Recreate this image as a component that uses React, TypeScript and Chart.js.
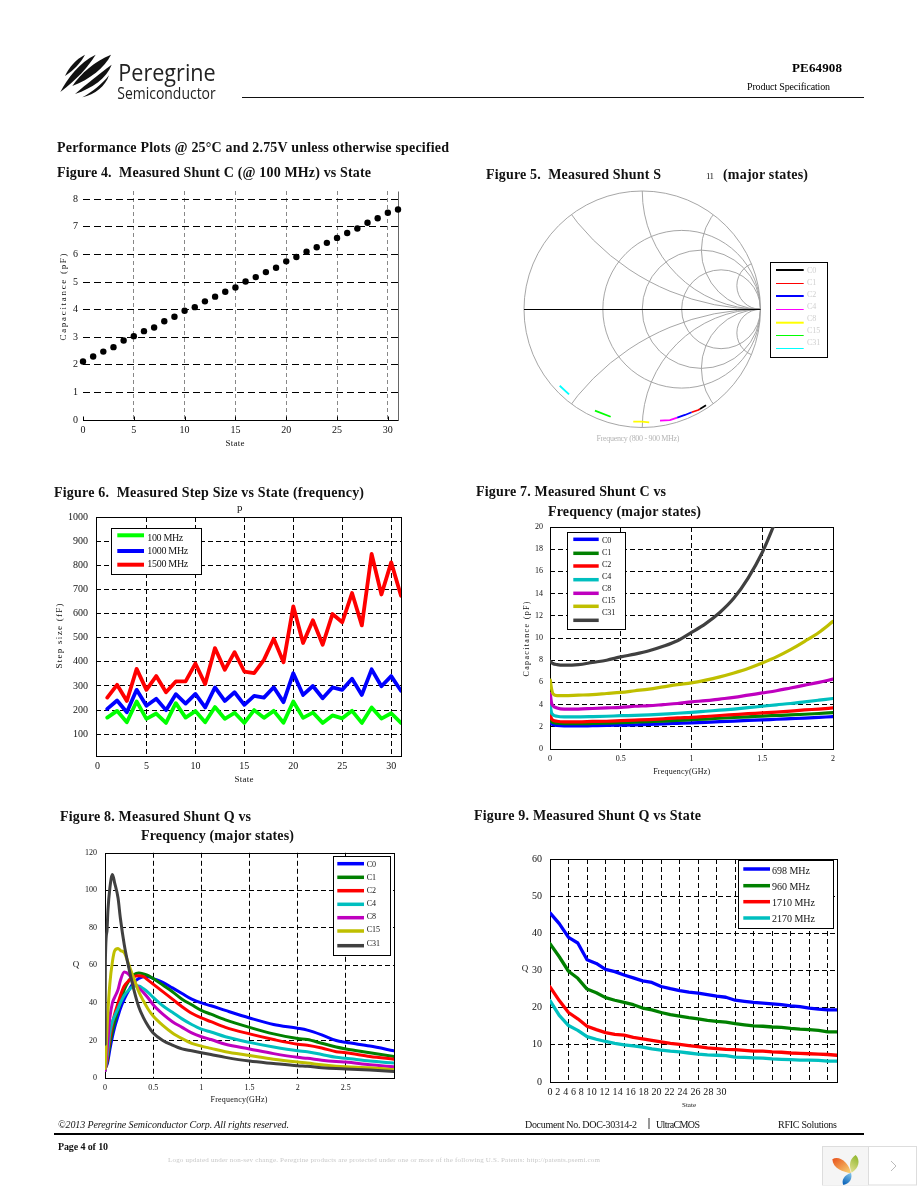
import { useEffect, useRef } from "react";
import { Chart, registerables } from "chart.js";

Chart.register(...registerables);

const SERIF = "'Liberation Serif', 'Times New Roman', serif";

// ---------- Figure 4 ----------
const fig4States = [0,1,2,3,4,5,6,7,8,9,10,11,12,13,14,15,16,17,18,19,20,21,22,23,24,25,26,27,28,29,30,31];
const fig4Capacitance = [2.12,2.3,2.48,2.64,2.88,3.04,3.22,3.35,3.58,3.74,3.96,4.09,4.3,4.47,4.65,4.8,5.02,5.18,5.36,5.52,5.75,5.91,6.1,6.26,6.42,6.6,6.78,6.94,7.15,7.31,7.51,7.63];
const fig4XTicks = [0,5,10,15,20,25,30];
const fig4YTicks = [0,1,2,3,4,5,6,7,8];

// ---------- Figure 5 (reflection coefficient, real / imaginary) ----------
const smithResistance = [0.5,1,2];
const smithReactance = [0.5,1,2,5];
const s11C0Re = [0.488,0.539];
const s11C0Im = [-0.843,-0.812];
const s11C1Re = [0.418,0.474,0.488];
const s11C1Im = [-0.871,-0.852,-0.843];
const s11C2Re = [0.296,0.361,0.418];
const s11C2Im = [-0.917,-0.894,-0.871];
const s11C4Re = [0.15,0.234,0.296];
const s11C4Im = [-0.942,-0.937,-0.917];
const s11C8Re = [-0.076,-0.005,0.059];
const s11C8Im = [-0.951,-0.951,-0.956];
const s11C15Re = [-0.4,-0.267];
const s11C15Im = [-0.858,-0.909];
const s11C31Re = [-0.698,-0.619];
const s11C31Im = [-0.647,-0.72];

// ---------- Figure 6 ----------
const fig6States = [1,2,3,4,5,6,7,8,9,10,11,12,13,14,15,16,17,18,19,20,21,22,23,24,25,26,27,28,29,30,31];
const step100 = [169,197,150,236,164,186,147,229,169,196,150,213,164,189,147,200,168,197,148,236,168,190,147,178,166,197,147,211,165,187,147];
const step1000 = [205,240,191,284,218,247,200,266,227,267,211,294,238,274,222,259,252,295,233,353,263,300,249,294,284,330,263,369,299,341,280];
const step1500 = [252,305,238,371,284,341,274,319,319,393,308,457,367,440,360,353,408,496,398,630,478,572,471,598,564,685,551,847,679,812,674];
const fig6XTicks = [0,5,10,15,20,25,30];
const fig6YTicks = [100,200,300,400,500,600,700,800,900,1000];

// ---------- Figure 7 ----------
const fig7Freq = [0.002,0.01,0.02,0.05,0.1,0.2,0.3,0.4,0.5,0.6,0.7,0.8,0.9,1,1.1,1.2,1.3,1.4,1.5,1.6,1.7,1.8,1.9,2];
const capC0 = [2.6,2.3,2.2,2.12,2.08,2.08,2.1,2.12,2.15,2.18,2.22,2.27,2.31,2.35,2.4,2.46,2.52,2.58,2.62,2.68,2.73,2.78,2.85,2.92];
const capC1 = [2.8,2.5,2.4,2.32,2.28,2.28,2.3,2.33,2.37,2.42,2.47,2.52,2.58,2.64,2.7,2.77,2.84,2.9,2.97,3.02,3.07,3.13,3.2,3.28];
const capC2 = [3.1,2.75,2.6,2.5,2.45,2.45,2.48,2.5,2.55,2.6,2.65,2.72,2.8,2.85,2.93,3.02,3.1,3.18,3.25,3.33,3.42,3.52,3.6,3.7];
const capC4 = [3.9,3.3,3.1,2.95,2.9,2.9,2.92,2.95,3,3.03,3.08,3.15,3.22,3.3,3.4,3.5,3.6,3.72,3.85,3.98,4.1,4.25,4.4,4.55];
const capC8 = [5,4.2,3.9,3.7,3.6,3.6,3.65,3.7,3.75,3.85,3.9,4,4.1,4.25,4.35,4.5,4.65,4.85,5.05,5.25,5.5,5.75,6,6.3];
const capC15 = [6.2,5.5,5,4.8,4.8,4.85,4.9,5,5.1,5.25,5.4,5.6,5.8,5.95,6.2,6.5,6.85,7.25,7.75,8.3,8.95,9.7,10.5,11.5];
const capC31 = [7.9,7.8,7.7,7.6,7.55,7.6,7.8,8,8.3,8.55,8.85,9.25,9.75,10.5,11.3,12.3,13.6,15.4,17.7,20.7];
const fig7XTicks = [0,0.5,1,1.5,2];
const fig7YTicks = [0,2,4,6,8,10,12,14,16,18,20];

// ---------- Figure 8 ----------
const fig8Freq = [0.001,0.004,0.02,0.03,0.05,0.077,0.1,0.135,0.16,0.2,0.25,0.3,0.35,0.4,0.45,0.5,0.6,0.7,0.8,0.9,1,1.1,1.25,1.5,1.75,2,2.1,2.25,2.4,2.5,2.75,3];
const qC0 = [4,5,7,9,15,22,27,33,37,42,47,51,53,54,54,53,51,48,45,42,40,38.5,36,32,28.5,26.5,25.5,23,20,19,17,14.5];
const qC1 = [4,5,8,11,18,25,30,36,40,47,52,55,56,55.5,54.5,53,49.5,46,42,39,36,34,31,27,23.5,21,20.5,18.5,16.5,15.5,13.5,11.5];
const qC2 = [4,5,9,13,21,29,34,40,44,49,52,54,54.5,54,52,50,46,42,38,34.5,32,30,27,23.5,20.5,18,17.5,16,14,13.5,11.5,10];
const qC4 = [4,5,11,15,24,30,33,37,40,44,47,49,49,47.5,45.5,43,38.5,35,31.5,28.5,26,24.5,22,19,16.5,14.5,14,12.5,11,10.5,9,8];
const qC8 = [4,5,14,20,32,40,43,47,52,56.5,55,51,48,45.5,42.5,39,34,30,27,24,22,20.5,18,15.5,13,11,10.5,9.5,8.8,8.5,7,6];
const qC15 = [5,8,25,35,50,62,67.7,69,68,66.8,60,53,46,41,36.5,33,28,24,21,18.5,17,15.8,14,12,10,8.5,8,7,6.3,6,5.5,4.5];
const qC31 = [18,62,78,89,101,108.5,104,96,85,71,58,47,38,32,27.5,24,20,17.5,15.5,14.5,13.5,12.5,11,9,7.7,6.5,6.2,5.5,5,4.8,4.2,3.5];
const fig8XTicks = [0,0.5,1,1.5,2,2.5,3];
const fig8YTicks = [0,20,40,60,80,100,120];

// ---------- Figure 9 ----------
const fig9States = [0,1,2,3,4,5,6,7,8,9,10,11,12,13,14,15,16,17,18,19,20,21,22,23,24,25,26,27,28,29,30,31];
const q698 = [45.5,42.6,38.9,37.4,32.9,31.9,30.3,29.7,28.8,28,27.2,26.8,25.7,25.1,24.6,24.2,23.9,23.5,23.1,22.8,22,21.7,21.4,21.2,21,20.8,20.5,20.3,19.9,19.6,19.4,19.4];
const q960 = [37.2,33.7,29.8,27.9,25,24,22.7,22,21.4,20.8,19.9,19.4,18.7,18.1,17.7,17.3,17,16.6,16.3,16.1,15.7,15.4,15.1,15,14.8,14.7,14.4,14.2,14.1,13.9,13.5,13.5];
const q1710 = [25.6,21.9,18.7,17,15,14.1,13.3,12.8,12.6,12,11.6,11.2,10.8,10.4,10.1,9.8,9.5,9.2,9,8.8,8.7,8.5,8.3,8.3,8.1,8,7.8,7.7,7.6,7.5,7.4,7.2];
const q2170 = [21.9,17.9,15.2,13.9,12.2,11.5,10.9,10.4,10,9.7,9.4,8.9,8.6,8.3,8.1,7.8,7.5,7.3,7.2,7.1,6.7,6.6,6.5,6.4,6.2,6.1,6,5.9,5.9,5.8,5.6,5.6];
const fig9GridTicks = [2,4,6,8,10,12,14,16,18,20,22,24,26,28,30];
const fig9TickLabels = [0,2,4,6,8,10,12,14,16,18,20,22,24,26,28,30];
const fig9YTicks = [0,10,20,30,40,50,60];

// ---------- helpers ----------
type Rect = { l: number; t: number; r: number; b: number };
const zip = (xs: number[], ys: number[]) => ys.map((y, i) => ({ x: xs[i], y }));

function drawText(ctx: any, text: string, x: number, y: number, o: any) {
  ctx.save();
  ctx.translate(x, y);
  if (o.rotate) ctx.rotate(-Math.PI / 2);
  ctx.font = o.font;
  ctx.fillStyle = o.color || "#111";
  ctx.textBaseline = "middle";
  ctx.textAlign = "left";
  const natural = ctx.measureText(text).width;
  const total = o.width || natural;
  if (o.width) ctx.letterSpacing = `${(o.width - natural) / Math.max(text.length - 1, 1)}px`;
  ctx.fillText(text, o.center ? -total / 2 : 0, 0);
  ctx.restore();
}

function figurePlugin(cfg: any, box: Rect) {
  return {
    id: "figureExtras",
    beforeDatasetsDraw(chart: any) {
      const ctx = chart.ctx;
      const a = chart.chartArea;
      if (cfg.smith) {
        const xs = chart.scales.x;
        const ys = chart.scales.y;
        const unit = xs.getPixelForValue(1) - xs.getPixelForValue(0);
        const cx = xs.getPixelForValue(0);
        const cy = ys.getPixelForValue(0);
        ctx.save();
        ctx.beginPath();
        ctx.arc(cx, cy, unit, 0, Math.PI * 2);
        ctx.clip();
        ctx.strokeStyle = "#9c9c9c";
        ctx.lineWidth = 0.9;
        smithResistance.forEach((r) => {
          ctx.beginPath();
          ctx.arc(xs.getPixelForValue(r / (r + 1)), cy, unit / (r + 1), 0, Math.PI * 2);
          ctx.stroke();
        });
        smithReactance.forEach((v) => {
          [1, -1].forEach((sign) => {
            ctx.beginPath();
            ctx.arc(xs.getPixelForValue(1), ys.getPixelForValue(sign / v), unit / v, 0, Math.PI * 2);
            ctx.stroke();
          });
        });
        ctx.restore();
        ctx.strokeStyle = "#9c9c9c";
        ctx.lineWidth = 0.9;
        ctx.beginPath();
        ctx.arc(cx, cy, unit, 0, Math.PI * 2);
        ctx.stroke();
        ctx.strokeStyle = "#000";
        ctx.lineWidth = 1;
        ctx.beginPath();
        ctx.moveTo(cx - unit, Math.round(cy) + 0.5);
        ctx.lineTo(cx + unit, Math.round(cy) + 0.5);
        ctx.stroke();
      }
      if (cfg.frame) {
        const L = Math.round(a.left) + 0.5, R = Math.round(a.right) + 0.5;
        const T = Math.round(a.top) + 0.5, B = Math.round(a.bottom) + 0.5;
        ctx.save();
        ctx.lineWidth = 1;
        ctx.strokeStyle = "#000";
        if (cfg.frame === "open") {
          ctx.strokeStyle = "#666";
          ctx.beginPath();
          ctx.moveTo(R, T);
          ctx.lineTo(R, B);
          ctx.stroke();
          ctx.strokeStyle = "#000";
          ctx.beginPath();
          ctx.moveTo(L, B);
          ctx.lineTo(R, B);
          ctx.stroke();
          ctx.beginPath();
          fig4XTicks.forEach((v) => {
            const p = Math.round(chart.scales.x.getPixelForValue(v)) + 0.5;
            ctx.moveTo(p, B);
            ctx.lineTo(p, B - 4);
          });
          ctx.stroke();
        } else {
          ctx.strokeRect(L, T, R - L, B - T);
        }
        ctx.restore();
      }
    },
    afterDatasetsDraw(chart: any) {
      const ctx = chart.ctx;
      const lg = cfg.legend;
      if (lg) {
        const o = { x: box.l, y: box.t };
        ctx.save();
        ctx.fillStyle = "#fff";
        ctx.strokeStyle = "#000";
        ctx.lineWidth = 1;
        const L = lg.box[0] - o.x, T = lg.box[1] - o.y, W = lg.box[2] - lg.box[0], H = lg.box[3] - lg.box[1];
        ctx.fillRect(L, T, W, H);
        ctx.strokeRect(L + 0.5, T + 0.5, W, H);
        chart.data.datasets.forEach((d: any, i: number) => {
          ctx.strokeStyle = d.borderColor;
          ctx.lineWidth = lg.widths ? lg.widths[i] : lg.width;
          ctx.beginPath();
          ctx.moveTo(lg.lineX[0] - o.x, lg.lineYs[i] - o.y);
          ctx.lineTo(lg.lineX[1] - o.x, lg.lineYs[i] - o.y);
          ctx.stroke();
          drawText(ctx, d.label, lg.textX - o.x, lg.textYs[i] - o.y, {
            font: lg.font,
            color: lg.color,
            width: lg.textWidths ? lg.textWidths[i] : undefined,
          });
        });
        ctx.restore();
      }
      (cfg.notes || []).forEach((n: any) => {
        drawText(ctx, n.text, n.x - box.l, n.y - box.t, { ...n, center: true });
      });
    },
  };
}

function FigureChart({ box, plot, datasets, scales, cfg }: any) {
  const ref = useRef<HTMLCanvasElement>(null);
  useEffect(() => {
    const xAfterFit = (s: any) => { s.height = box.b - plot.b; };
    const yAfterFit = (s: any) => { s.width = plot.l - box.l; };
    const chart = new Chart(ref.current as any, {
      type: "line",
      data: { datasets },
      plugins: [figurePlugin(cfg, box), ...(cfg.extraPlugins || [])],
      options: {
        animation: false,
        responsive: false,
        devicePixelRatio: 1,
        layout: {
          padding: cfg.smith
            ? { left: plot.l - box.l, right: box.r - plot.r, top: plot.t - box.t, bottom: box.b - plot.b }
            : { left: 0, bottom: 0, right: box.r - plot.r, top: plot.t - box.t },
        },
        plugins: { legend: { display: false }, tooltip: { enabled: false }, title: { display: false } },
        elements: { point: { radius: 0 }, line: { tension: 0, borderJoinStyle: "round", borderCapStyle: "round" } },
        scales: cfg.smith
          ? scales
          : { x: { ...scales.x, afterFit: xAfterFit }, y: { ...scales.y, afterFit: yAfterFit } },
      } as any,
    } as any);
    return () => chart.destroy();
  }, []);
  return (
    <canvas
      ref={ref}
      width={box.r - box.l}
      height={box.b - box.t}
      style={{ position: "absolute", left: box.l, top: box.t, width: box.r - box.l, height: box.b - box.t, display: "block" }}
    />
  );
}

function axis(min: number, max: number, tickValues: number[], o: any) {
  return {
    type: "linear",
    min,
    max,
    afterBuildTicks: (s: any) => { s.ticks = tickValues.map((value) => ({ value })); },
    ticks: {
      autoSkip: false,
      maxRotation: 0,
      color: "#111",
      font: { family: SERIF, size: o.size },
      padding: o.padding,
      display: o.labels !== false,
      callback: o.callback || ((v: any) => String(v)),
    },
    grid: {
      drawTicks: false,
      lineWidth: 1,
      color: (c: any) => (o.hide && o.hide.includes(c.tick && c.tick.value) ? "rgba(0,0,0,0)" : o.gridColor || "#000"),
    },
    border: { display: false, dash: o.dash || [5, 3] },
  };
}

const line = (label: string, color: string, data: any[], i: number, n: number, w: number, smooth = false) => ({
  label,
  data,
  borderColor: color,
  backgroundColor: color,
  borderWidth: w,
  pointRadius: 0,
  order: n - i,
  ...(smooth ? { cubicInterpolationMode: "monotone" } : {}),
});

// ---------- figure configs ----------
const stateNames = ["C0", "C1", "C2", "C4", "C8", "C15", "C31"];
const stateColors = ["#0000ff", "#008000", "#ff0000", "#00bfbf", "#bf00bf", "#bfbf00", "#404040"];
const capSeries = [capC0, capC1, capC2, capC4, capC8, capC15, capC31];
const qSeries = [qC0, qC1, qC2, qC4, qC8, qC15, qC31];

const smithColors = ["#000000", "#ff0000", "#0000ff", "#ff00ff", "#ffff00", "#00ff00", "#00ffff"];
const smithTraces = [
  [s11C0Re, s11C0Im],
  [s11C1Re, s11C1Im],
  [s11C2Re, s11C2Im],
  [s11C4Re, s11C4Im],
  [s11C8Re, s11C8Im],
  [s11C15Re, s11C15Im],
  [s11C31Re, s11C31Im],
];

const note = (text: string, x: number, y: number, size: number, width: number, rotate = false, color = "#111") => ({
  text, x, y, width, rotate, color, font: `${size}px ${SERIF}`,
});

const fig9TickRow = {
  id: "fig9TickRow",
  afterDraw(chart: any) {
    drawText(chart.ctx, fig9TickLabels.join(" "), 37.5, chart.chartArea.bottom + 10, {
      font: `10px ${SERIF}`,
      width: 179,
    });
  },
};

// ---------- page texts: text, x, baseline, width, size, weight, style, color ----------
const pageTexts: [string, number, number, number, number, string, string, string][] = [
  ["PE64908", 792, 72, 50, 13, "bold", "normal", "#000"],
  ["Product Specification", 747, 90, 83, 10, "normal", "normal", "#000"],
  ["Performance Plots @ 25°C and 2.75V unless otherwise specified", 57, 151.5, 392, 14, "bold", "normal", "#111"],
  ["Figure 4.  Measured Shunt C (@ 100 MHz) vs State", 57, 176.5, 314, 14, "bold", "normal", "#111"],
  ["Figure 5.  Measured Shunt S", 486, 178.5, 175, 14, "bold", "normal", "#111"],
  ["11", 706, 178.5, 8, 9, "normal", "normal", "#111"],
  ["(major states)", 723, 178.5, 85, 14, "bold", "normal", "#111"],
  ["Figure 6.  Measured Step Size vs State (frequency)", 54, 496.5, 310, 14, "bold", "normal", "#111"],
  ["p", 237, 511, 5, 11, "normal", "normal", "#111"],
  ["Figure 7. Measured Shunt C vs", 476, 495.5, 190, 14, "bold", "normal", "#111"],
  ["Frequency (major states)", 548, 515.5, 153, 14, "bold", "normal", "#111"],
  ["Figure 8. Measured Shunt Q vs", 60, 820.5, 191, 14, "bold", "normal", "#111"],
  ["Frequency (major states)", 141, 839.5, 153, 14, "bold", "normal", "#111"],
  ["Figure 9. Measured Shunt Q vs State", 474, 819.5, 227, 14, "bold", "normal", "#111"],
  ["©2013 Peregrine Semiconductor Corp. All rights reserved.", 58, 1128, 231, 10, "normal", "italic", "#111"],
  ["Document No. DOC-30314-2", 525, 1128, 112, 10, "normal", "normal", "#111"],
  ["UltraCMOS", 656, 1128, 44, 10, "normal", "normal", "#111"],
  ["RFIC Solutions", 778, 1128, 59, 10, "normal", "normal", "#111"],
  ["Page 4 of 10", 58, 1150, 50, 10, "bold", "normal", "#111"],
  ["Logo updated under non-sev change. Peregrine products are protected under one or more of the following U.S. Patents: http://patents.psemi.com", 168, 1162, 432, 7, "normal", "normal", "#c8c8c8"],
];

export default function App() {
  return (
    <div style={{ position: "absolute", left: 0, top: 0, width: 918, height: 1188, background: "#fff", overflow: "hidden" }}>
      {/* Figure 4 */}
      <FigureChart
        box={{ l: 40, t: 180, r: 415, b: 455 }}
        plot={{ l: 83, t: 191, r: 398, b: 420 }}
        datasets={[
          {
            label: "Capacitance",
            data: zip(fig4States, fig4Capacitance),
            showLine: false,
            pointRadius: 3.2,
            pointBackgroundColor: "#000",
            pointBorderWidth: 0,
            clip: false,
          },
        ]}
        scales={{
          x: axis(0, 31, fig4XTicks, { size: 10, padding: 4, gridColor: "#888", dash: [4, 3], hide: [0] }),
          y: axis(0, 8.3, fig4YTicks, { size: 10, padding: 5, dash: [7, 4] }),
        }}
        cfg={{
          frame: "open",
          notes: [note("Capacitance (pF)", 64, 297, 9, 87, true), note("State", 235, 444, 9, 19)],
        }}
      />
      {/* Figure 5 */}
      <FigureChart
        box={{ l: 505, t: 180, r: 840, b: 450 }}
        plot={{ l: 524, t: 191, r: 760.5, b: 427.5 }}
        datasets={smithTraces.map((t, i) => ({
          ...line(stateNames[i], smithColors[i], zip(t[0], t[1]), 0, 1, 1.8),
          borderCapStyle: "butt",
        }))}
        scales={{
          x: { type: "linear", min: -1, max: 1, display: false },
          y: { type: "linear", min: -1, max: 1, display: false },
        }}
        cfg={{
          smith: true,
          legend: {
            box: [770, 262, 827, 357],
            lineX: [776, 803.7],
            lineYs: [270, 283.5, 296, 309.5, 322.7, 335.5, 348.5],
            textX: 807,
            textYs: [270.5, 282.5, 294.5, 306.5, 318.5, 330.5, 342.5],
            font: `8px ${SERIF}`,
            color: "#cfcfcf",
            widths: [2, 1, 2, 1, 2, 1, 1],
          },
          notes: [note("Frequency (800 - 900 MHz)", 638, 438.5, 8, 83, false, "#b5b5b5")],
        }}
      />
      {/* Figure 6 */}
      <FigureChart
        box={{ l: 40, t: 500, r: 415, b: 790 }}
        plot={{ l: 96, t: 517, r: 401, b: 756 }}
        datasets={[
          line("100 MHz", "#00ff00", zip(fig6States, step100), 0, 3, 3.8),
          line("1000 MHz", "#0000ff", zip(fig6States, step1000), 1, 3, 3.8),
          line("1500 MHz", "#ff0000", zip(fig6States, step1500), 2, 3, 3.8),
        ]}
        scales={{
          x: axis(-0.15, 31, fig6XTicks, { size: 10, padding: 4, hide: [0] }),
          y: axis(10, 1000, fig6YTicks, { size: 10, padding: 8, hide: [1000] }),
        }}
        cfg={{
          frame: "box",
          legend: {
            box: [111, 528, 201, 574],
            lineX: [117.3, 144],
            lineYs: [535.3, 551, 564.7],
            textX: 147.3,
            textYs: [538.7, 551.3, 564.3],
            font: `10px ${SERIF}`,
            width: 4,
            textWidths: [36, 41, 41],
          },
          notes: [note("Step size (fF)", 60, 636, 9, 65, true), note("State", 244, 780, 9, 19)],
        }}
      />
      {/* Figure 7 */}
      <FigureChart
        box={{ l: 510, t: 515, r: 850, b: 785 }}
        plot={{ l: 550, t: 527, r: 833, b: 749 }}
        datasets={stateNames.map((n, i) => line(n, stateColors[i], zip(fig7Freq, capSeries[i]), i, 7, 3.2, true))}
        scales={{
          x: axis(0, 2, fig7XTicks, { size: 8, padding: 5, hide: [0, 2] }),
          y: axis(0, 20, fig7YTicks, { size: 8, padding: 7, hide: [20, 0] }),
        }}
        cfg={{
          frame: "box",
          legend: {
            box: [567, 532, 625, 629],
            lineX: [573.3, 598.7],
            lineYs: [539.3, 553.3, 566, 579.7, 593.3, 606.3, 620.3],
            textX: 602,
            textYs: [541, 553, 565, 576.7, 589, 601, 613],
            font: `8px ${SERIF}`,
            width: 3.5,
          },
          notes: [note("Capacitance (pF)", 527, 639, 8, 75, true), note("Frequency(GHz)", 681.7, 771.7, 8, 57)],
        }}
      />
      {/* Figure 8 */}
      <FigureChart
        box={{ l: 50, t: 840, r: 410, b: 1112 }}
        plot={{ l: 105, t: 851, r: 394, b: 1078 }}
        datasets={stateNames.map((n, i) => line(n, stateColors[i], zip(fig8Freq, qSeries[i]), i, 7, 3, true))}
        scales={{
          x: axis(0, 3, fig8XTicks, {
            size: 8,
            padding: 5,
            hide: [0, 3],
            callback: (v: any) => (v === 3 ? "" : String(v)),
          }),
          y: axis(0, 120, fig8YTicks, { size: 8, padding: 8, hide: [120, 0] }),
        }}
        cfg={{
          frame: "box",
          legend: {
            box: [333, 856, 390, 955],
            lineX: [337.3, 364],
            lineYs: [863.7, 877.3, 890.7, 904.3, 917.7, 931, 945.7],
            textX: 366.7,
            textYs: [864.7, 878, 891.3, 904.3, 917.3, 930.3, 943.7],
            font: `8px ${SERIF}`,
            width: 3.5,
          },
          notes: [note("Q", 76, 965, 9, 0), note("Frequency(GHz)", 239, 1100, 8, 57)],
        }}
      />
      {/* Figure 9 */}
      <FigureChart
        box={{ l: 510, t: 845, r: 855, b: 1112 }}
        plot={{ l: 550, t: 856, r: 837, b: 1082 }}
        datasets={[
          line("698 MHz", "#0000ff", zip(fig9States, q698), 0, 4, 3.3),
          line("960 MHz", "#008000", zip(fig9States, q960), 1, 4, 3.3),
          line("1710 MHz", "#ff0000", zip(fig9States, q1710), 2, 4, 3.3),
          line("2170 MHz", "#00bfbf", zip(fig9States, q2170), 3, 4, 3.3),
        ]}
        scales={{
          x: axis(0, 31, fig9GridTicks, { size: 10, padding: 4, labels: false }),
          y: axis(0, 60, fig9YTicks, { size: 10, padding: 8, hide: [60, 0] }),
        }}
        cfg={{
          frame: "box",
          extraPlugins: [fig9TickRow],
          legend: {
            box: [738, 860, 833, 928],
            lineX: [743.3, 770],
            lineYs: [869, 885.7, 901.7, 918],
            textX: 772,
            textYs: [871.7, 887.7, 903.7, 919.3],
            font: `10px ${SERIF}`,
            width: 3.5,
            textWidths: [38, 38, 43, 43],
          },
          notes: [note("Q", 525, 969, 9, 0), note("State", 689, 1105, 7, 14)],
        }}
      />

      {/* Page furniture */}
      <svg width={918} height={1188} style={{ position: "absolute", left: 0, top: 0, pointerEvents: "none" }}>
        <defs>
          <linearGradient id="leafA" x1="0" y1="0" x2="1" y2="1">
            <stop offset="0" stopColor="#e8501a" />
            <stop offset="1" stopColor="#f8d878" />
          </linearGradient>
          <linearGradient id="leafB" x1="0.7" y1="0" x2="0.3" y2="1">
            <stop offset="0" stopColor="#8fb62c" />
            <stop offset="1" stopColor="#e0df90" />
          </linearGradient>
          <linearGradient id="leafC" x1="0.7" y1="0" x2="0.3" y2="1">
            <stop offset="0" stopColor="#7cc0e8" />
            <stop offset="1" stopColor="#0a62b8" />
          </linearGradient>
        </defs>
        {/* Logo */}
        <g transform="translate(55 50) scale(0.3333)" fill="#111">
          <path d="M30,78 C42,52 62,28 90,14 C76,40 56,60 30,78 Z" />
          <path d="M16,126 C38,84 72,38 122,14 C100,50 66,88 16,126 Z" />
          <path d="M52,108 C78,70 118,34 168,14 C150,52 104,88 52,108 Z" />
          <path d="M60,132 C92,104 132,72 170,44 C156,84 112,114 60,132 Z" />
          <path d="M82,142 C112,126 142,102 162,76 C152,108 120,134 82,142 Z" />
        </g>
        <text x={118.3} y={80.5} fontFamily="'Open Sans', sans-serif" fontSize={24} fill="#222" textLength={97.4} lengthAdjust="spacingAndGlyphs">Peregrine</text>
        <text x={117.3} y={99} fontFamily="'Open Sans', sans-serif" fontSize={16.5} fill="#222" textLength={98.4} lengthAdjust="spacingAndGlyphs">Semiconductor</text>
        <rect x={242} y={97} width={622} height={1} fill="#111" />
        {/* Page text */}
        {pageTexts.map(([t, x, y, w, size, weight, style, color], i) => (
          <text
            key={i}
            x={x}
            y={y}
            textLength={w}
            fontFamily={SERIF}
            fontSize={size}
            fontWeight={weight}
            fontStyle={style}
            fill={color}
            xmlSpace="preserve"
          >
            {t}
          </text>
        ))}
        <rect x={648.5} y={1118} width={1} height={11} fill="#333" />
        <rect x={54} y={1133} width={810} height={2} fill="#000" />
        {/* Viewer widget */}
        <rect x={822.5} y={1146.5} width={94} height={38.5} fill="#fff" stroke="#ddd" />
        <rect x={823} y={1147} width={45} height={38} fill="#f5f5f5" />
        <rect x={868} y={1147} width={1} height={38} fill="#ddd" />
        <g transform="translate(815 1140) scale(0.3333)">
          <path d="M52,58 C72,44 102,68 108,100 C84,96 54,86 52,58 Z" fill="url(#leafA)" />
          <path d="M122,45 C137,60 132,85 110,98 C100,76 105,55 122,45 Z" fill="url(#leafB)" />
          <path d="M108,98 C113,115 105,130 85,135 C78,120 88,105 108,98 Z" fill="url(#leafC)" />
        </g>
        <path d="M891,1161 L896,1166 L891,1171" fill="none" stroke="#bbb" strokeWidth={1} />
      </svg>
    </div>
  );
}
